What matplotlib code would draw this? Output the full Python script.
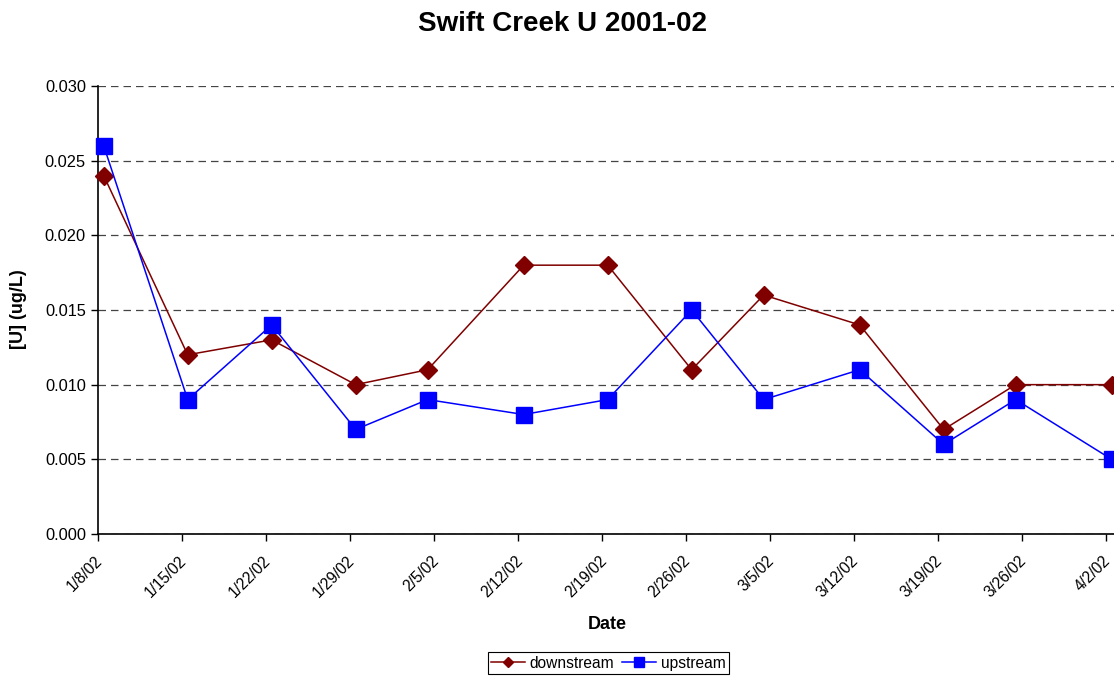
from datetime import datetime, timedelta

import matplotlib
matplotlib.use('Agg')
import matplotlib.pyplot as plt
import matplotlib.dates as mdates
import matplotlib.transforms as mtransforms

plt.rcParams['font.family'] = ['Liberation Sans', 'DejaVu Sans']

sample_dates = ['2002-01-08', '2002-01-15', '2002-01-22', '2002-01-29', '2002-02-04',
                '2002-02-12', '2002-02-19', '2002-02-26', '2002-03-04', '2002-03-12',
                '2002-03-19', '2002-03-25', '2002-04-02']
downstream = [0.024, 0.012, 0.013, 0.010, 0.011, 0.018, 0.018,
              0.011, 0.016, 0.014, 0.007, 0.010, 0.010]
upstream = [0.026, 0.009, 0.014, 0.007, 0.009, 0.008, 0.009,
            0.015, 0.009, 0.011, 0.006, 0.009, 0.005]

axis_start = datetime(2002, 1, 8)
axis_end = datetime(2002, 4, 3)

# points sit in the middle of their day, like a spreadsheet date axis
dates = [datetime.strptime(d, "%Y-%m-%d") + timedelta(hours=12) for d in sample_dates]

fig = plt.figure(figsize=(11.14, 6.78), dpi=100)
ax = fig.add_axes([0.0877, 0.2124, 0.9156, 0.6608])

ax.plot(dates, downstream, color='#800000', lw=1.1, marker='D', ms=9,
        mec='#800000', mfc='#800000', label='downstream', clip_on=False, zorder=3)
ax.plot(dates, upstream, color='#0000FF', lw=1.1, marker='s', ms=11,
        mec='#0000FF', mfc='#0000FF', label='upstream', clip_on=False, zorder=4)

ax.set_xlim(axis_start, axis_end)
ax.set_ylim(0, 0.030)
ax.set_yticks([0.000, 0.005, 0.010, 0.015, 0.020, 0.025, 0.030])
ax.yaxis.set_major_formatter(plt.FuncFormatter(lambda v, _: f'{v:.3f}'))

ticks = [axis_start + timedelta(days=7 * k) for k in range(13)]
ax.set_xticks(ticks)
ax.xaxis.set_major_formatter(plt.FuncFormatter(
    lambda v, _: (lambda d: f'{d.month}/{d.day}/{d.year % 100:02d}')(mdates.num2date(v))))

ax.tick_params(axis='y', direction='out', length=5, width=1, labelsize=11.8, colors='black')
ax.tick_params(axis='x', direction='out', length=5, width=1, labelsize=11.2,
               colors='black', pad=4)

shift = mtransforms.ScaledTranslation(-3 / 100, -7 / 100, fig.dpi_scale_trans)
for lbl in ax.get_xticklabels():
    lbl.set_rotation(45)
    lbl.set_ha('right')
    lbl.set_rotation_mode('anchor')
    lbl.set_transform(lbl.get_transform() + shift)

for s in ['top', 'right']:
    ax.spines[s].set_visible(False)
for s in ['left', 'bottom']:
    ax.spines[s].set_linewidth(1.2)
    ax.spines[s].set_color('black')

ax.yaxis.grid(True, ls=(0, (6, 4)), color='#444444', lw=0.9)
ax.set_axisbelow(True)

fig.text(0.0162, 0.5442, '[U] (ug/L)', rotation=90, ha='center', va='center',
         fontsize=13, fontweight='bold')
fig.text(0.5455, 0.0796, 'Date', ha='center', va='center',
         fontsize=13, fontweight='bold')
fig.text(0.5045, 0.965, 'Swift Creek U 2001-02', ha='center', va='center',
         fontsize=20, fontweight='bold')

leg = fig.legend(loc='center', bbox_to_anchor=(0.546, 0.022), ncol=2, fontsize=11.2,
                 frameon=True, fancybox=False, edgecolor='black', framealpha=1,
                 handlelength=2.2, columnspacing=0.5, handletextpad=0.3,
                 borderpad=0.2, borderaxespad=0.2, markerscale=0.6)
leg.get_frame().set_linewidth(0.8)

fig.savefig('out.png', dpi=100)
plt.close(fig)
